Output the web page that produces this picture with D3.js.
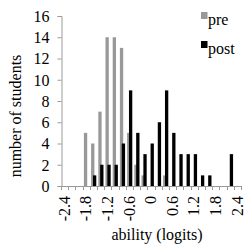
<!DOCTYPE html>
<html><head><meta charset="utf-8">
<script src="https://cdn.jsdelivr.net/npm/d3@7"></script>
<style>body{margin:0;background:#fff}svg{display:block}</style>
</head><body>
<script>
const categories = ["-2.4","-2.2","-2.0","-1.8","-1.6","-1.4","-1.2","-1.0","-0.8","-0.6","-0.4","-0.2","0","0.2","0.4","0.6","0.8","1.0","1.2","1.4","1.6","1.8","2.0","2.2","2.4"];
const preValues  = [0,0,0,5,4,7,14,14,13,5,2,1,0,0,1,0,0,0,0,0,0,0,0,0,0];
const postValues = [0,0,0,0,1,2,2,2,4,9,5,3,4,6,9,5,3,3,3,1,1,0,0,3,0];
const xTickLabels = ["-2.4","-1.8","-1.2","-0.6","0","0.6","1.2","1.8","2.4"];
const yTicks = [0,2,4,6,8,10,12,14,16];
const seriesNames = ["pre","post"];
const seriesColors = ["#999999","#000000"];

const FONT = "'Liberation Serif'";
const svg = d3.select("body").append("svg").attr("width",250).attr("height",250);
const x = d3.scaleBand().domain(categories).range([61,241]).padding(0);
const y = d3.scaleLinear().domain([0,16]).range([186,16]);
const bw = x.bandwidth();
const axisColor = "#9a9a9a";

// bars
const series = [preValues, postValues];
const offs = [0.18, 0.44];
series.forEach((vals, si) => {
  svg.append("g").selectAll("rect").data(categories.map((c,i)=>({c, v: vals[i]})))
    .join("rect")
    .attr("x", d => x(d.c) + offs[si]*bw)
    .attr("width", 0.46*bw)
    .attr("y", d => y(d.v))
    .attr("height", d => y(0) - y(d.v))
    .attr("fill", seriesColors[si]);
});

// y axis
const yAxis = d3.axisLeft(y).tickValues(yTicks).tickSize(4).tickPadding(8).tickFormat(d3.format("d"));
const gy = svg.append("g").attr("transform","translate(61.5,0)").call(yAxis);
gy.select(".domain").attr("stroke",axisColor);
gy.selectAll(".tick line").attr("stroke",axisColor);
gy.selectAll(".tick text").style("font-family",FONT).style("font-size","16px").attr("fill","#000").attr("dy","0.33em");

// x axis line and ticks at category boundaries
const gx = svg.append("g");
const r = x.range();
gx.append("line").attr("x1",r[0]).attr("x2",r[1]).attr("y1",186.5).attr("y2",186.5).attr("stroke",axisColor);
const bounds = categories.map(c => x(c)).concat([r[1]]);
gx.selectAll("line.t").data(bounds).join("line").attr("class","t")
  .attr("x1",d=>Math.round(d)+0.5).attr("x2",d=>Math.round(d)+0.5)
  .attr("y1",186).attr("y2",190).attr("stroke",axisColor);
gx.selectAll("text").data(xTickLabels).join("text")
  .attr("transform", d => `translate(${x(categories.find(c => +c === +d)) + bw/2},196) rotate(-90)`)
  .attr("text-anchor","end").attr("dy","0.33em")
  .style("font-family",FONT).style("font-size","16px").text(d => d);

// titles
svg.append("text").attr("transform","translate(16,116) rotate(-90)").attr("text-anchor","middle")
  .attr("dy","0.33em").style("font-family",FONT).style("font-size","16px").text("number of students");
svg.append("text").attr("x",157).attr("y",239.5).attr("text-anchor","middle")
  .style("font-family",FONT).style("font-size","16px").text("ability (logits)");

// legend
const lg = svg.append("g");
seriesNames.forEach((n,i) => {
  const yy = 12 + i*29;
  lg.append("rect").attr("x",201).attr("y",yy).attr("width",6.5).attr("height",7).attr("fill",seriesColors[i]);
  lg.append("text").attr("x",208).attr("y",yy+12.5)
    .style("font-family",FONT).style("font-size","16px").text(n);
});
</script>
</body></html>
